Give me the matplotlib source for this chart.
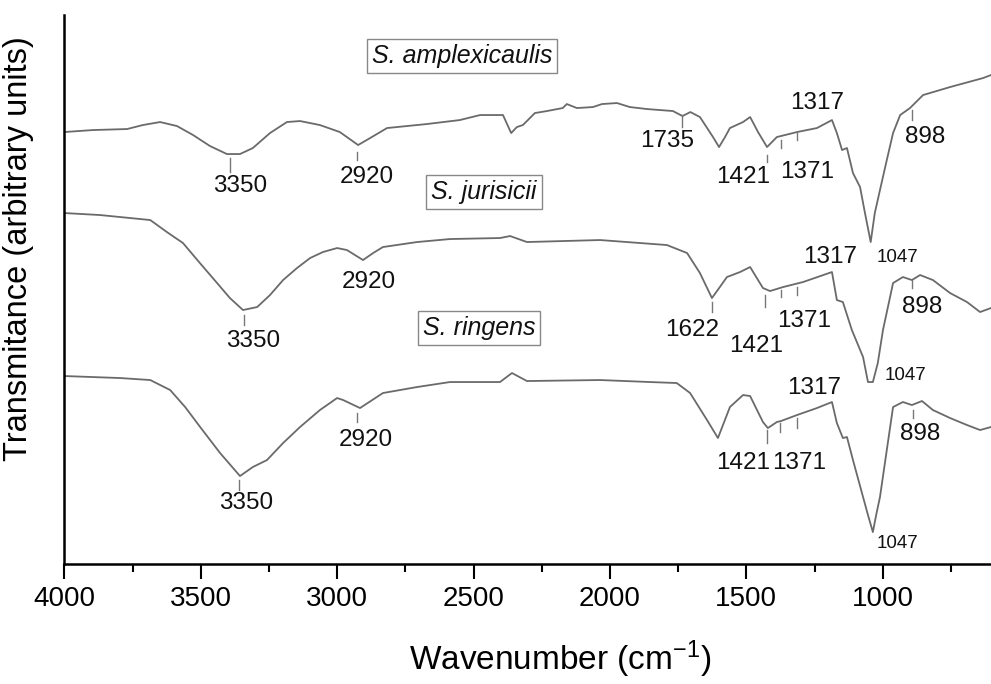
import matplotlib
matplotlib.use("Agg")
import matplotlib.pyplot as plt

plt.rcParams['font.family'] = ['Liberation Sans', 'DejaVu Sans']
plt.rcParams['mathtext.default'] = 'regular'

# wavenumber (cm-1) and transmittance (arbitrary units, spectra stacked)
wn_amplex = [4000, 3895, 3770, 3712, 3649, 3587, 3528, 3466, 3404, 3356, 3309, 3246,
             3184, 3136, 3063, 2990, 2923, 2879, 2817, 2671, 2550, 2476, 2392, 2362,
             2341, 2319, 2275, 2231, 2173, 2158, 2121, 2062, 2029, 1974, 1927, 1864,
             1769, 1734, 1705, 1670, 1622, 1600, 1578, 1560, 1512, 1486, 1457, 1424,
             1388, 1314, 1241, 1186, 1168, 1149, 1131, 1109, 1083, 1065, 1044, 1029,
             1010, 985, 962, 936, 900, 852, 753, 632, 603]
t_amplex = [432, 434, 435, 439, 442, 438, 429, 418, 410, 410, 416, 431,
            442, 443, 439, 432, 419, 426, 436, 440, 444, 449, 449, 431,
            437, 439, 451, 453, 456, 460, 456, 457, 460, 461, 457, 455,
            453, 448, 452, 447, 427, 417, 427, 436, 442, 447, 432, 417,
            427, 432, 436, 444, 431, 414, 416, 391, 377, 351, 322, 351,
            374, 404, 431, 449, 456, 469, 477, 486, 489]

wn_juris = [4000, 3869, 3685, 3624, 3565, 3503, 3440, 3393, 3345, 3293, 3246, 3198,
            3147, 3099, 3052, 3000, 2964, 2905, 2868, 2832, 2707, 2586, 2403, 2366,
            2304, 2036, 1791, 1717, 1670, 1626, 1597, 1571, 1523, 1486, 1439, 1413,
            1365, 1292, 1186, 1168, 1146, 1113, 1072, 1054, 1036, 1018, 999, 962,
            926, 893, 863, 816, 753, 691, 643, 603]
t_juris = [351, 349, 344, 332, 321, 301, 281, 266, 254, 257, 269, 284,
           296, 306, 312, 316, 314, 304, 311, 317, 322, 325, 326, 328,
           322, 324, 319, 311, 291, 266, 277, 287, 292, 297, 276, 273,
           277, 282, 292, 264, 262, 234, 207, 182, 182, 201, 234, 281,
           287, 284, 289, 284, 271, 262, 252, 256]

wn_ring = [4000, 3796, 3685, 3612, 3557, 3502, 3429, 3356, 3309, 3257, 3198, 3136,
           3063, 3000, 2978, 2916, 2832, 2707, 2586, 2403, 2359, 2304, 2036, 1853,
           1755, 1706, 1644, 1604, 1560, 1512, 1486, 1439, 1421, 1388, 1373, 1314,
           1241, 1186, 1168, 1146, 1131, 1109, 1072, 1054, 1036, 1024, 1010, 985,
           962, 926, 893, 856, 816, 753, 691, 643, 603]
t_ring = [188, 186, 184, 174, 157, 137, 111, 88, 97, 104, 121, 137,
          154, 166, 164, 156, 171, 177, 182, 182, 191, 183, 184, 182,
          181, 171, 144, 126, 157, 169, 168, 142, 136, 142, 143, 149,
          156, 162, 141, 126, 127, 104, 67, 49, 32, 49, 67, 114,
          157, 162, 159, 163, 154, 146, 139, 134, 137]

species = ['S. amplexicaulis', 'S. jurisicii', 'S. ringens']
species_xy = [(2542, 508), (2462, 372), (2480, 236)]

# peak labels: text, tick position, tick ends, label position
peaks_amplex = [('3350', 3393, 406, 392, 3356, 378), ('2920', 2928, 412, 404, 2890, 387),
                ('1735', 1737, 449, 437, 1791, 423), ('1421', 1424, 409, 402, 1512, 387),
                ('1371', 1373, 424, 416, 1278, 392), ('1317', 1314, 431, 424, 1241, 461),
                ('898', 893, 454, 444, 845, 427)]
peaks_juris = [('3350', 3341, 249, 239, 3308, 223), ('2920', None, 0, 0, 2883, 282),
               ('1622', 1626, 262, 252, 1700, 234), ('1421', 1432, 269, 257, 1465, 218),
               ('1371', 1373, 274, 267, 1288, 243), ('1317', 1314, 277, 269, 1193, 307),
               ('898', 893, 284, 276, 856, 257)]
peaks_ring = [('3350', 3359, 84, 74, 3334, 61), ('2920', 2928, 151, 142, 2895, 124),
              ('1421', 1424, 134, 121, 1512, 101), ('1371', 1377, 141, 132, 1306, 101),
              ('1317', 1314, 146, 136, 1252, 176), ('898', 889, 154, 146, 863, 130)]
small_1047 = [(944, 307), (915, 189), (947, 21)]

fig = plt.figure(figsize=(9.91, 6.84), dpi=100)
ax = fig.add_axes([0.0649, 0.1754, 0.9351, 0.8026])

line_color = '#6a6a6a'
for wn, t in [(wn_amplex, t_amplex), (wn_juris, t_juris), (wn_ring, t_ring)]:
    ax.plot(wn, t, color=line_color, lw=1.3)

for peaks in [peaks_amplex, peaks_juris, peaks_ring]:
    for lab, tx, y0, y1, lx, ly in peaks:
        if tx is not None:
            ax.plot([tx, tx], [y0, y1], color='#777777', lw=1.0)
        ax.text(lx, ly, lab, fontsize=17.5, ha='center', va='center', color='#111111')

for lx, ly in small_1047:
    ax.text(lx, ly, '1047', fontsize=13.5, ha='center', va='center', color='#111111')

for name, (sx, sy) in zip(species, species_xy):
    ax.text(sx, sy, name, fontsize=18, style='italic', ha='center', va='center',
            color='#111111',
            bbox=dict(boxstyle='square,pad=0.2', fc='white', ec='#888888', lw=1.0))

ax.set_xlim(4000, 603)
ax.set_ylim(0, 549)
ax.set_xticks([4000, 3500, 3000, 2500, 2000, 1500, 1000])
ax.set_xticks([3750, 3250, 2750, 2250, 1750, 1250, 750], minor=True)
ax.set_yticks([])
ax.tick_params(axis='x', which='major', length=11, width=1.5, labelsize=20, pad=5)
ax.tick_params(axis='x', which='minor', length=6, width=1.5)
for s in ['top', 'right']:
    ax.spines[s].set_visible(False)
for s in ['left', 'bottom']:
    ax.spines[s].set_linewidth(1.8)

ax.set_xlabel('Wavenumber (cm$^{-1}$)', fontsize=24)
ax.xaxis.set_label_coords(0.535, -0.135)
ax.set_ylabel('Transmitance (arbitrary units)', fontsize=23.5)
ax.yaxis.set_label_coords(-0.033, 0.574)

fig.savefig('out.png', dpi=100)
